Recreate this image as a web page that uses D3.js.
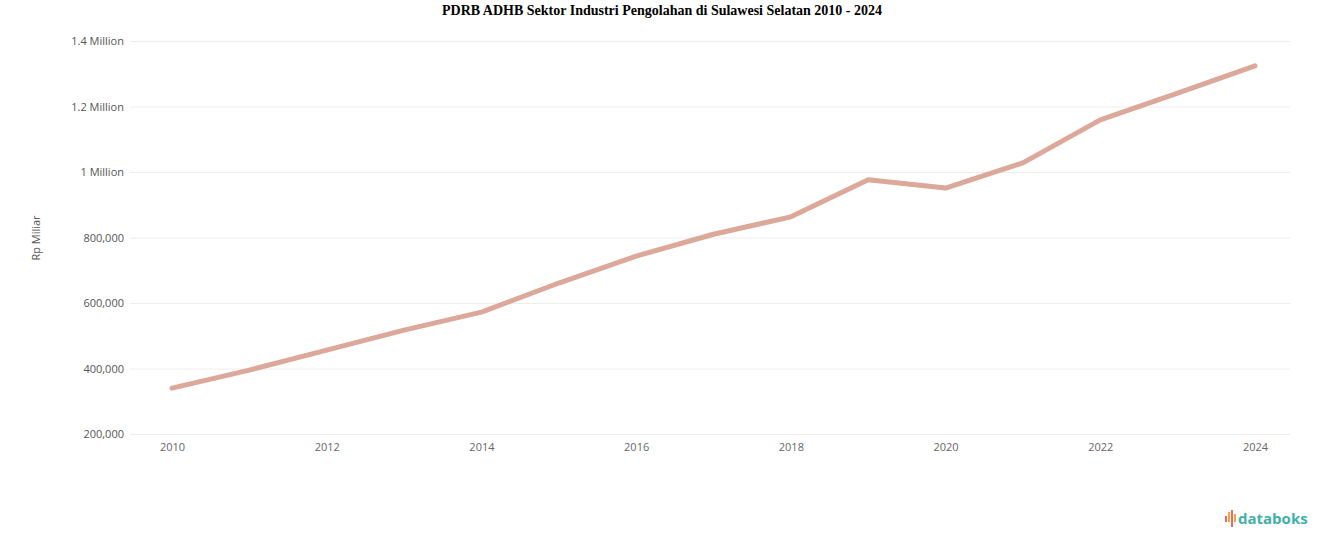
<!DOCTYPE html>
<html><head><meta charset="utf-8">
<script src="https://cdn.jsdelivr.net/npm/d3@7"></script>
<style>body{margin:0;background:#fff}</style>
</head><body>
<svg id="chart" width="1324" height="547"></svg>
<script>
// data
var years = [2010,2011,2012,2013,2014,2015,2016,2017,2018,2019,2020,2021,2022,2023,2024];
var values = [340000,395000,456000,517000,572000,661000,743000,810000,863000,976000,951000,1028000,1159000,1241000,1324000];
var yTicks = [200000,400000,600000,800000,1000000,1200000,1400000];
var yTickLabels = ['200,000','400,000','600,000','800,000','1 Million','1.2 Million','1.4 Million'];
var xTicks = [2010,2012,2014,2016,2018,2020,2022,2024];

var svg = d3.select('#chart');
var x = d3.scaleLinear().domain([2010,2024]).range([172,1255]);
var y = d3.scaleLinear().domain([200000,1400000]).range([434,41]);

svg.append('text').attr('x',662).attr('y',15).attr('text-anchor','middle')
	.style('font','bold 14px "Liberation Serif", serif')
	.text('PDRB ADHB Sektor Industri Pengolahan di Sulawesi Selatan 2010 - 2024');

// grid + y labels
var yAxis = d3.axisLeft(y).tickValues(yTicks).tickSize(-1160)
	.tickFormat(function(d,i){ return yTickLabels[i]; });
var gy = svg.append('g').attr('transform','translate(130,0)').call(yAxis);
gy.select('.domain').remove();
gy.selectAll('line').attr('stroke','#eeeeee');
gy.selectAll('text').attr('x',-6).attr('fill','#555').style('font','11px "Open Sans", sans-serif');

var xAxis = d3.axisBottom(x).tickValues(xTicks).tickSize(0).tickFormat(d3.format('d'));
var gx = svg.append('g').attr('transform','translate(0,440)').call(xAxis);
gx.select('.domain').remove();
gx.selectAll('text').attr('fill','#666').style('font','11px "Open Sans", sans-serif');

svg.append('text').attr('transform','translate(40,238) rotate(-90)').attr('text-anchor','middle')
	.attr('fill','#555').style('font','11px "Open Sans", sans-serif').text('Rp Miliar');

var line = d3.line().x(function(d,i){ return x(years[i]); }).y(function(d){ return y(d); });
svg.append('path').datum(values).attr('d',line).attr('fill','none')
	.attr('stroke','#dba899').attr('stroke-width',5).attr('stroke-linejoin','round').attr('stroke-linecap','round');

// logo
var logo = svg.append('g').attr('transform','translate(1225,512)');
[[0,4,'#f26b4f'],[3,0,'#f6a04d'],[6,-2,'#f26b4f'],[9,2,'#f6a04d']].forEach(function(b){
	logo.append('rect').attr('x',b[0]).attr('y',b[1]).attr('width',2).attr('height',10-b[1]+ (b[0]==6?5:0)).attr('fill',b[2]);
});
logo.append('text').attr('x',13).attr('y',12).attr('fill','#3fb0a8')
	.style('font','bold 15px "Open Sans", sans-serif').text('databoks');
</script>
</body></html>
